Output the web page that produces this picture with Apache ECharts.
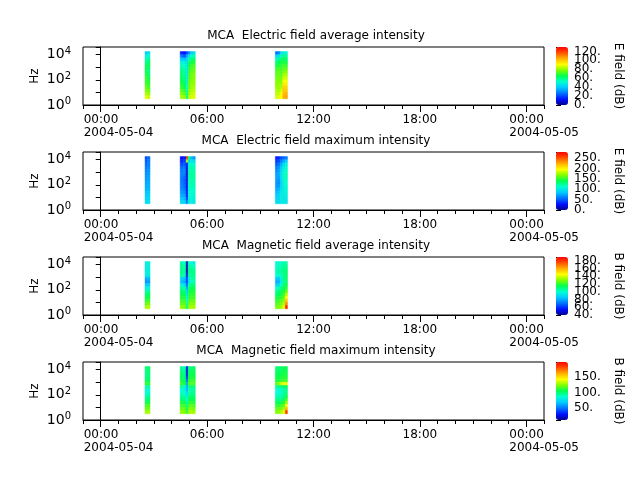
<!DOCTYPE html>
<html>
<head>
<meta charset="utf-8">
<script src="https://cdn.jsdelivr.net/npm/echarts@6/dist/echarts.min.js"></script>
<style>
html, body { margin: 0; padding: 0; background: #fff; }
.chart { width: 640px; height: 480px; position: absolute; left: 0; top: 0; }
</style>
</head>
<body>
<script>
var TITLES = ['MCA  Electric field average intensity', 'MCA  Electric field maximum intensity',
              'MCA  Magnetic field average intensity', 'MCA  Magnetic field maximum intensity'];
var CB_NAMES = ['E field (dB)', 'E field (dB)', 'B field (dB)', 'B field (dB)'];
var CB_MIN = [0, 0, 40, 10];
var CB_MAX = [130, 280, 190, 200];
var CB_STEP = [20, 50, 20, 50];
var CB_SPLIT = [6, 5, 7, 4];
var DAY_LABELS = ['2004-05-04', '2004-05-05'];
var MAJOR_HOURS = [0, 6, 12, 18, 24];
// channel edges (Hz)
var FREQ_EDGES = [3.16, 5.62, 10, 17.8, 31.6, 56.2, 100, 178, 316, 562, 1000, 1780, 3160, 5620, 10000, 17800];
// column edges of the three passes, hours since 2004-05-04 00:00
var PASS_EDGES = [[2.50, 2.64, 2.78], [4.48, 4.65, 4.82, 4.93, 5.06, 5.20, 5.33], [9.85, 9.99, 10.13, 10.27, 10.41, 10.53]];

// one row per time column, highest channel first
var E_AVG = [
  [40, 48, 55, 60, 63, 65, 66, 68, 70, 70, 72, 75, 78, 82, 88],
  [45, 52, 58, 62, 64, 62, 60, 63, 66, 68, 70, 72, 76, 80, 86],
  [15, 28, 40, 50, 55, 58, 60, 62, 64, 66, 68, 70, 74, 78, 82],
  [12, 22, 38, 48, 52, 55, 58, 58, 60, 62, 64, 66, 70, 74, 80],
  [20, 35, 42, 44, 45, 46, 46, 47, 48, 48, 50, 52, 55, 58, 62],
  [30, 45, 55, 62, 66, 68, 70, 72, 72, 74, 75, 76, 78, 80, 84],
  [40, 52, 60, 66, 70, 72, 74, 76, 76, 78, 80, 80, 82, 84, 86],
  [45, 55, 62, 68, 72, 74, 76, 78, 78, 80, 80, 82, 84, 86, 88],
  [25, 42, 55, 62, 66, 70, 72, 74, 76, 78, 78, 80, 82, 84, 86],
  [30, 45, 58, 64, 68, 72, 75, 76, 76, 78, 80, 80, 82, 85, 88],
  [45, 55, 62, 66, 68, 70, 72, 74, 76, 78, 80, 82, 86, 90, 92],
  [48, 58, 64, 68, 72, 75, 78, 82, 86, 90, 94, 98, 100, 102, 104],
  [50, 58, 62, 66, 70, 74, 78, 82, 86, 90, 94, 98, 100, 104, 106]
];
var E_MAX = [
  [45, 50, 55, 60, 62, 65, 68, 70, 72, 75, 78, 82, 86, 90, 95],
  [55, 60, 62, 65, 68, 70, 72, 74, 76, 78, 80, 84, 88, 92, 96],
  [25, 35, 45, 55, 60, 62, 60, 58, 60, 62, 65, 70, 75, 85, 95],
  [30, 40, 50, 58, 62, 60, 55, 50, 52, 55, 60, 65, 72, 80, 90],
  [260, 180, 30, 20, 18, 18, 20, 22, 22, 25, 25, 28, 30, 40, 60],
  [130, 90, 110, 115, 118, 120, 120, 118, 116, 115, 112, 110, 108, 105, 100],
  [80, 100, 115, 120, 122, 124, 124, 122, 120, 118, 115, 112, 110, 108, 105],
  [70, 95, 110, 118, 120, 122, 122, 120, 118, 116, 112, 110, 108, 105, 100],
  [30, 40, 50, 60, 65, 70, 72, 70, 68, 70, 75, 80, 85, 90, 95],
  [35, 45, 58, 68, 72, 75, 72, 68, 65, 70, 78, 85, 90, 92, 95],
  [45, 60, 75, 85, 90, 95, 95, 92, 90, 92, 95, 98, 100, 100, 100],
  [55, 75, 95, 105, 110, 112, 112, 110, 108, 108, 106, 104, 102, 100, 100],
  [60, 85, 105, 112, 115, 118, 118, 115, 112, 110, 108, 105, 102, 100, 98]
];
var B_AVG = [
  [95, 95, 96, 96, 95, 80, 76, 85, 95, 105, 112, 116, 120, 126, 134],
  [97, 96, 96, 96, 94, 82, 78, 88, 98, 106, 112, 116, 122, 128, 136],
  [105, 108, 108, 108, 106, 88, 84, 96, 106, 112, 116, 118, 122, 126, 132],
  [100, 104, 106, 106, 104, 84, 80, 92, 104, 110, 114, 118, 122, 126, 130],
  [45, 45, 46, 48, 55, 62, 62, 68, 78, 88, 92, 96, 100, 105, 110],
  [100, 105, 108, 108, 106, 95, 92, 104, 110, 114, 118, 120, 124, 128, 132],
  [98, 104, 108, 108, 108, 104, 102, 110, 114, 118, 120, 122, 126, 130, 134],
  [96, 102, 106, 108, 108, 106, 104, 110, 114, 118, 120, 122, 126, 130, 134],
  [98, 100, 102, 102, 100, 85, 80, 88, 100, 108, 112, 116, 120, 124, 128],
  [100, 102, 104, 104, 100, 86, 82, 90, 102, 110, 114, 118, 122, 126, 130],
  [102, 104, 106, 106, 104, 96, 95, 102, 110, 114, 116, 120, 124, 128, 132],
  [104, 106, 108, 108, 108, 108, 106, 110, 114, 118, 122, 126, 130, 136, 142],
  [105, 108, 110, 112, 112, 112, 112, 116, 120, 126, 136, 146, 156, 166, 182]
];
var B_MAX = [
  [100, 98, 96, 98, 102, 110, 90, 84, 86, 92, 98, 106, 114, 120, 128],
  [102, 100, 98, 100, 104, 112, 92, 86, 88, 94, 100, 108, 116, 122, 130],
  [95, 98, 100, 102, 106, 112, 92, 86, 88, 94, 100, 108, 114, 120, 126],
  [90, 95, 98, 100, 104, 108, 88, 82, 86, 92, 98, 106, 114, 120, 124],
  [25, 26, 30, 36, 48, 58, 60, 64, 72, 80, 86, 92, 98, 104, 112],
  [98, 102, 104, 106, 110, 115, 96, 90, 92, 98, 104, 110, 116, 122, 128],
  [100, 104, 106, 108, 112, 118, 100, 94, 96, 100, 106, 112, 118, 124, 130],
  [102, 104, 106, 108, 112, 116, 98, 94, 96, 100, 104, 110, 116, 122, 128],
  [100, 102, 104, 106, 108, 118, 94, 86, 86, 90, 96, 104, 112, 118, 124],
  [100, 102, 104, 106, 110, 125, 96, 86, 86, 90, 96, 104, 112, 120, 126],
  [102, 104, 106, 108, 112, 135, 98, 88, 88, 92, 98, 106, 114, 122, 130],
  [104, 106, 108, 110, 114, 145, 102, 92, 92, 96, 102, 110, 118, 128, 138],
  [104, 106, 108, 110, 114, 140, 104, 96, 100, 106, 114, 126, 142, 160, 185]
];
var PANELS = [E_AVG, E_MAX, B_AVG, B_MAX];

var RAINBOW = ['#00008f', '#0010ff', '#0070ff', '#00c8ff', '#00ffd0', '#00ff50',
               '#80ff00', '#ffff00', '#ffb000', '#ff5000', '#ff0000'];
var FONT = 'DejaVu Sans';

var cols = [];
PASS_EDGES.forEach(function (e) {
  for (var i = 0; i + 1 < e.length; i++) cols.push([e[i], e[i + 1]]);
});

function cells(values) {
  var out = [];
  values.forEach(function (col, c) {
    var n = col.length;
    col.forEach(function (v, k) {
      out.push([cols[c][0], cols[c][1], FREQ_EDGES[n - 1 - k], FREQ_EDGES[n - k], v]);
    });
  });
  return out;
}

function renderCell(params, api) {
  var p0 = api.coord([api.value(0), api.value(3)]);
  var p1 = api.coord([api.value(1), api.value(2)]);
  var c = api.visual('color');
  return {
    type: 'rect',
    shape: { x: p0[0], y: p0[1], width: p1[0] - p0[0], height: p1[1] - p0[1] },
    style: { fill: c, stroke: c, lineWidth: 0.5 }
  };
}

function hourLabel(v) {
  var h = ((v % 24) + 24) % 24;
  var s = (h < 10 ? '0' : '') + h + ':00';
  if (v % 24 === 0) return '{t|' + s + '}\n{d|' + DAY_LABELS[v / 24] + '}';
  return s;
}

function powLabel(v) {
  var e = Math.log10(v);
  var r = Math.round(e);
  if (Math.abs(e - r) > 1e-6 || r % 2) return '';
  return '{b|10}{s|' + r + '}';
}

function txt() { return { color: '#000', fontFamily: FONT, fontSize: 12 }; }
function ink() { return { color: '#000', width: 1 }; }

function build(f) {
  var grid = [], xAxis = [], yAxis = [], series = [], visualMap = [], title = [];
  var i;
  for (i = 0; i < 4; i++) {
    var top = 47 + 105 * i;
    title.push({
      text: TITLES[i], left: 311, top: top - 22, textAlign: 'center',
      textStyle: { color: '#000', fontFamily: FONT, fontSize: 12, fontWeight: 'normal' }
    });
    grid.push({ left: 83, top: top, width: 461, height: 58, show: true, borderColor: '#000', borderWidth: 1, outerBoundsMode: 'none' });
    yAxis.push({
      type: 'log', logBase: 10, gridIndex: i, min: 1, max: 41000,
      name: 'Hz', nameLocation: 'middle', nameGap: 42, nameTextStyle: txt(), nameMoveOverlap: false,
      axisLine: { show: true, lineStyle: ink() },
      axisTick: { show: true, length: 5, lineStyle: ink() },
      splitLine: { show: false },
      axisLabel: {
        margin: 12, formatter: powLabel, color: '#000',
        rich: {
          b: { fontFamily: FONT, fontSize: 14, color: '#000' },
          s: { fontFamily: FONT, fontSize: 10, color: '#000', padding: [0, 0, 7, 0] }
        }
      }
    });
  }
  // hourly ticks
  for (i = 0; i < 4; i++) {
    xAxis.push({
      type: 'value', gridIndex: i, min: -1, max: 25, interval: 1, position: 'bottom',
      axisLine: { lineStyle: ink() }, axisTick: { length: 4, lineStyle: ink() },
      axisLabel: { show: false }, splitLine: { show: false }
    });
  }
  // six-hour ticks with labels
  for (i = 0; i < 4; i++) {
    xAxis.push({
      type: 'value', gridIndex: i, min: -1, max: 25, position: 'bottom',
      axisLine: { show: false },
      axisTick: { length: 7, customValues: MAJOR_HOURS, lineStyle: ink() },
      axisLabel: {
        customValues: MAJOR_HOURS, formatter: hourLabel, margin: 8,
        color: '#000', fontFamily: FONT, fontSize: 12, lineHeight: 13,
        rich: {
          t: { width: 34, align: 'left', fontFamily: FONT, fontSize: 12, lineHeight: 13, color: '#000' },
          d: { width: 34, align: 'left', fontFamily: FONT, fontSize: 12, lineHeight: 13, color: '#000' }
        }
      },
      splitLine: { show: false }
    });
  }
  // colour bars
  for (i = 0; i < 4; i++) {
    var cbTop = 47 + 105 * i;
    var step = CB_STEP[i];
    var aligned = CB_MIN[i] % step === 0;
    // nudge the bar floor a hair below the first labelled value so every label is kept
    var lo = (f.nudge && aligned) ? CB_MIN[i] - 0.2 : CB_MIN[i];
    grid.push({ left: 556, top: cbTop, width: 12, height: 58, outerBoundsMode: 'none' });
    xAxis.push({ type: 'value', gridIndex: 4 + i, show: false, min: 0, max: 1 });
    var lab = {
      margin: 6, color: '#000', fontFamily: FONT, fontSize: 12,
      showMinLabel: !(f.nudge && aligned), showMaxLabel: false,
      formatter: (function (s) { return function (v) { return v % s === 0 ? v + '.' : ''; }; })(step)
    };
    var cbAxis = {
      type: 'value', gridIndex: 4 + i, position: 'right', min: lo, max: CB_MAX[i],
      name: CB_NAMES[i], nameLocation: 'middle', nameRotate: -90, nameGap: 44, nameTextStyle: txt(), nameMoveOverlap: false,
      axisLine: { show: false },
      axisTick: { show: true, length: 5, lineStyle: ink() },
      minorTick: { show: !f.noMinor, splitNumber: step === 20 ? 2 : 5, length: 3, lineStyle: ink() },
      splitLine: { show: false },
      axisLabel: lab
    };
    if (aligned && !f.nudge) cbAxis.interval = step; else cbAxis.splitNumber = CB_SPLIT[i];
    yAxis.push(cbAxis);
    visualMap.push({
      type: 'continuous', seriesIndex: i, dimension: 4, min: lo, max: CB_MAX[i],
      calculable: false, hoverLink: false, left: 556, top: cbTop, itemWidth: 12, itemHeight: 58,
      padding: 0, inRange: { color: RAINBOW.slice() }
    });
    series.push({
      type: 'custom', xAxisIndex: i, yAxisIndex: i, renderItem: renderCell,
      encode: { x: [0, 1], y: [2, 3] }, data: cells(PANELS[i]), animation: false
    });
  }
  return {
    animation: false, backgroundColor: '#fff',
    title: title, grid: grid, xAxis: xAxis, yAxis: yAxis, visualMap: visualMap, series: series
  };
}

var attempts = [{ nudge: 1 }, { nudge: 1, noMinor: 1 }, {}, { noMinor: 1 }];
for (var a = 0; a < attempts.length; a++) {
  var el = document.createElement('div');
  el.className = 'chart';
  document.body.appendChild(el);
  var chart = echarts.init(el);
  try {
    chart.setOption(build(attempts[a]));
    break;
  } catch (err) {
    chart.dispose();
    document.body.removeChild(el);
  }
}
</script>
</body>
</html>
